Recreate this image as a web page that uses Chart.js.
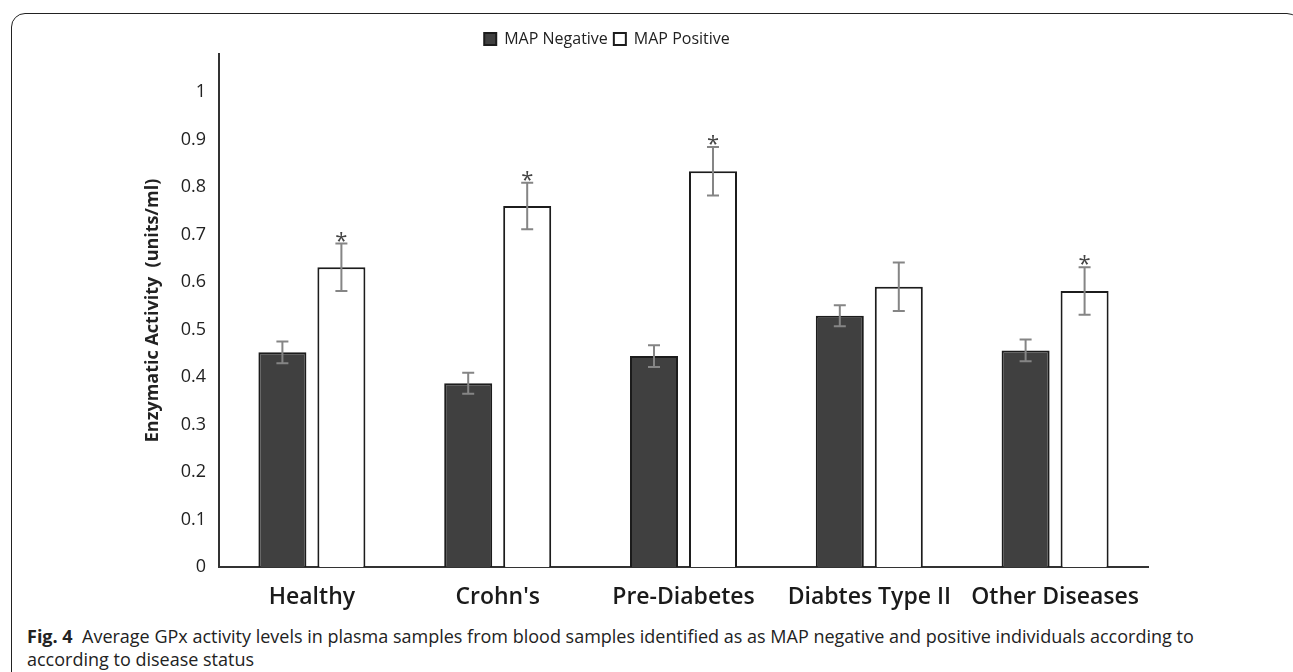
<!DOCTYPE html>
<html>
<head>
<meta charset="utf-8">
<title>GPx activity by disease status</title>
<script src="https://cdn.jsdelivr.net/npm/chart.js@4.4.0/dist/chart.umd.min.js"></script>
<style>
  html, body { margin: 0; padding: 0; background: #fff; width: 1293px; height: 672px; overflow: hidden; }
  #frame { position: absolute; left: 11px; top: 13px; width: 1290px; height: 720px;
           border: 1.5px solid #222; border-radius: 14px; box-sizing: border-box; }
  #chart { position: absolute; left: 0; top: 0; width: 1293px; height: 620px; }
  #caption { position: absolute; left: 27px; top: 625px; font: 18px 'Open Sans', sans-serif;
             color: #222; line-height: 23px; white-space: nowrap; }
</style>
</head>
<body>
<div id="frame"></div>
<canvas id="chart" width="1293" height="620"></canvas>
<div id="caption"><b>Fig. 4</b>&nbsp; Average GPx activity levels in plasma samples from blood samples identified as as MAP negative and positive individuals according to<br>according to disease status</div>

<script>
// ---- data ----
const categories = ['Healthy', "Crohn's", 'Pre-Diabetes', 'Diabtes Type II', 'Other Diseases'];
const negValues  = [0.452, 0.387, 0.444, 0.529, 0.456];
const posValues  = [0.631, 0.760, 0.833, 0.590, 0.581];
const negErrors  = [0.023, 0.022, 0.023, 0.022, 0.023];
const posErrors  = [0.050, 0.049, 0.051, 0.051, 0.050];
const posStar    = [true, true, true, false, true];
const yTickLabels = ['0', '0.1', '0.2', '0.3', '0.4', '0.5', '0.6', '0.7', '0.8', '0.9', '1'];

const errorsByDataset = [negErrors, posErrors];
const starsByDataset  = [null, posStar];

// error bars + significance stars
const errorBars = {
  id: 'errorBars',
  afterDatasetsDraw(chart) {
    const ctx = chart.ctx;
    const y = chart.scales.y;
    chart.data.datasets.forEach((ds, i) => {
      const meta = chart.getDatasetMeta(i);
      const errs = errorsByDataset[i];
      const stars = starsByDataset[i];
      meta.data.forEach((bar, j) => {
        const v = ds.data[j];
        const top = y.getPixelForValue(v + errs[j]);
        const bot = y.getPixelForValue(v - errs[j]);
        ctx.save();
        ctx.strokeStyle = '#858585';
        ctx.lineWidth = 2;
        ctx.beginPath();
        ctx.moveTo(bar.x, top); ctx.lineTo(bar.x, bot);
        ctx.moveTo(bar.x - 6, top); ctx.lineTo(bar.x + 6, top);
        ctx.moveTo(bar.x - 6, bot); ctx.lineTo(bar.x + 6, bot);
        ctx.stroke();
        if (stars && stars[j]) {
          ctx.fillStyle = '#444';
          ctx.font = '22px "Open Sans"';
          ctx.textAlign = 'center';
          ctx.textBaseline = 'alphabetic';
          ctx.fillText('*', bar.x, top + 4);
        }
        ctx.restore();
      });
    });
  }
};

// nudge the legend to where it sits in the figure
const legendShift = {
  id: 'legendShift',
  afterLayout(chart) {
    const lg = chart.legend;
    if (!lg) return;
    lg.left += 33; lg.right += 33;
    lg.top += 3; lg.bottom += 3;
  }
};

new Chart(document.getElementById('chart'), {
  type: 'bar',
  data: {
    labels: categories,
    datasets: [
      {
        label: 'MAP Negative',
        data: negValues,
        backgroundColor: '#404040',
        borderColor: '#1c1c1c',
        borderWidth: 2,
        barPercentage: 0.814,
        categoryPercentage: 0.635
      },
      {
        label: 'MAP Positive',
        data: posValues,
        backgroundColor: '#ffffff',
        borderColor: '#1c1c1c',
        borderWidth: 2,
        barPercentage: 0.814,
        categoryPercentage: 0.635
      }
    ]
  },
  options: {
    responsive: false,
    animation: false,
    layout: { padding: { top: 22, left: 0, right: 145, bottom: 0 } },
    plugins: {
      tooltip: { enabled: false },
      legend: {
        position: 'top',
        labels: {
          boxWidth: 12,
          boxHeight: 12,
          padding: 6,
          color: '#222',
          font: { family: 'Open Sans', size: 16 }
        }
      }
    },
    scales: {
      x: {
        grid: { display: false, drawTicks: false },
        border: { display: true, color: '#333', width: 2 },
        ticks: { color: '#1a1a1a', padding: 17, font: { family: 'Open Sans', size: 23, weight: '600' } },
        afterFit(scale) { scale.height = 53; }
      },
      y: {
        min: 0,
        max: 1.08,
        grid: { display: false, drawTicks: false },
        border: { display: true, color: '#333', width: 2 },
        ticks: {
          stepSize: 0.1,
          padding: 13,
          color: '#222',
          font: { family: 'Open Sans', size: 18 },
          callback: (v) => yTickLabels[Math.round(v * 10)] ?? ''
        },
        afterBuildTicks(scale) {
          scale.ticks = scale.ticks.filter(t => t.value <= 1.0001);
        },
        title: {
          display: true,
          text: 'Enzymatic Activity  (units/ml)',
          color: '#222',
          padding: { top: 142, bottom: 0 },
          font: { family: 'Open Sans', size: 18, weight: 'bold' }
        },
        afterFit(scale) { scale.width = 219; }
      }
    }
  },
  plugins: [errorBars, legendShift]
});
</script>
</body>
</html>
